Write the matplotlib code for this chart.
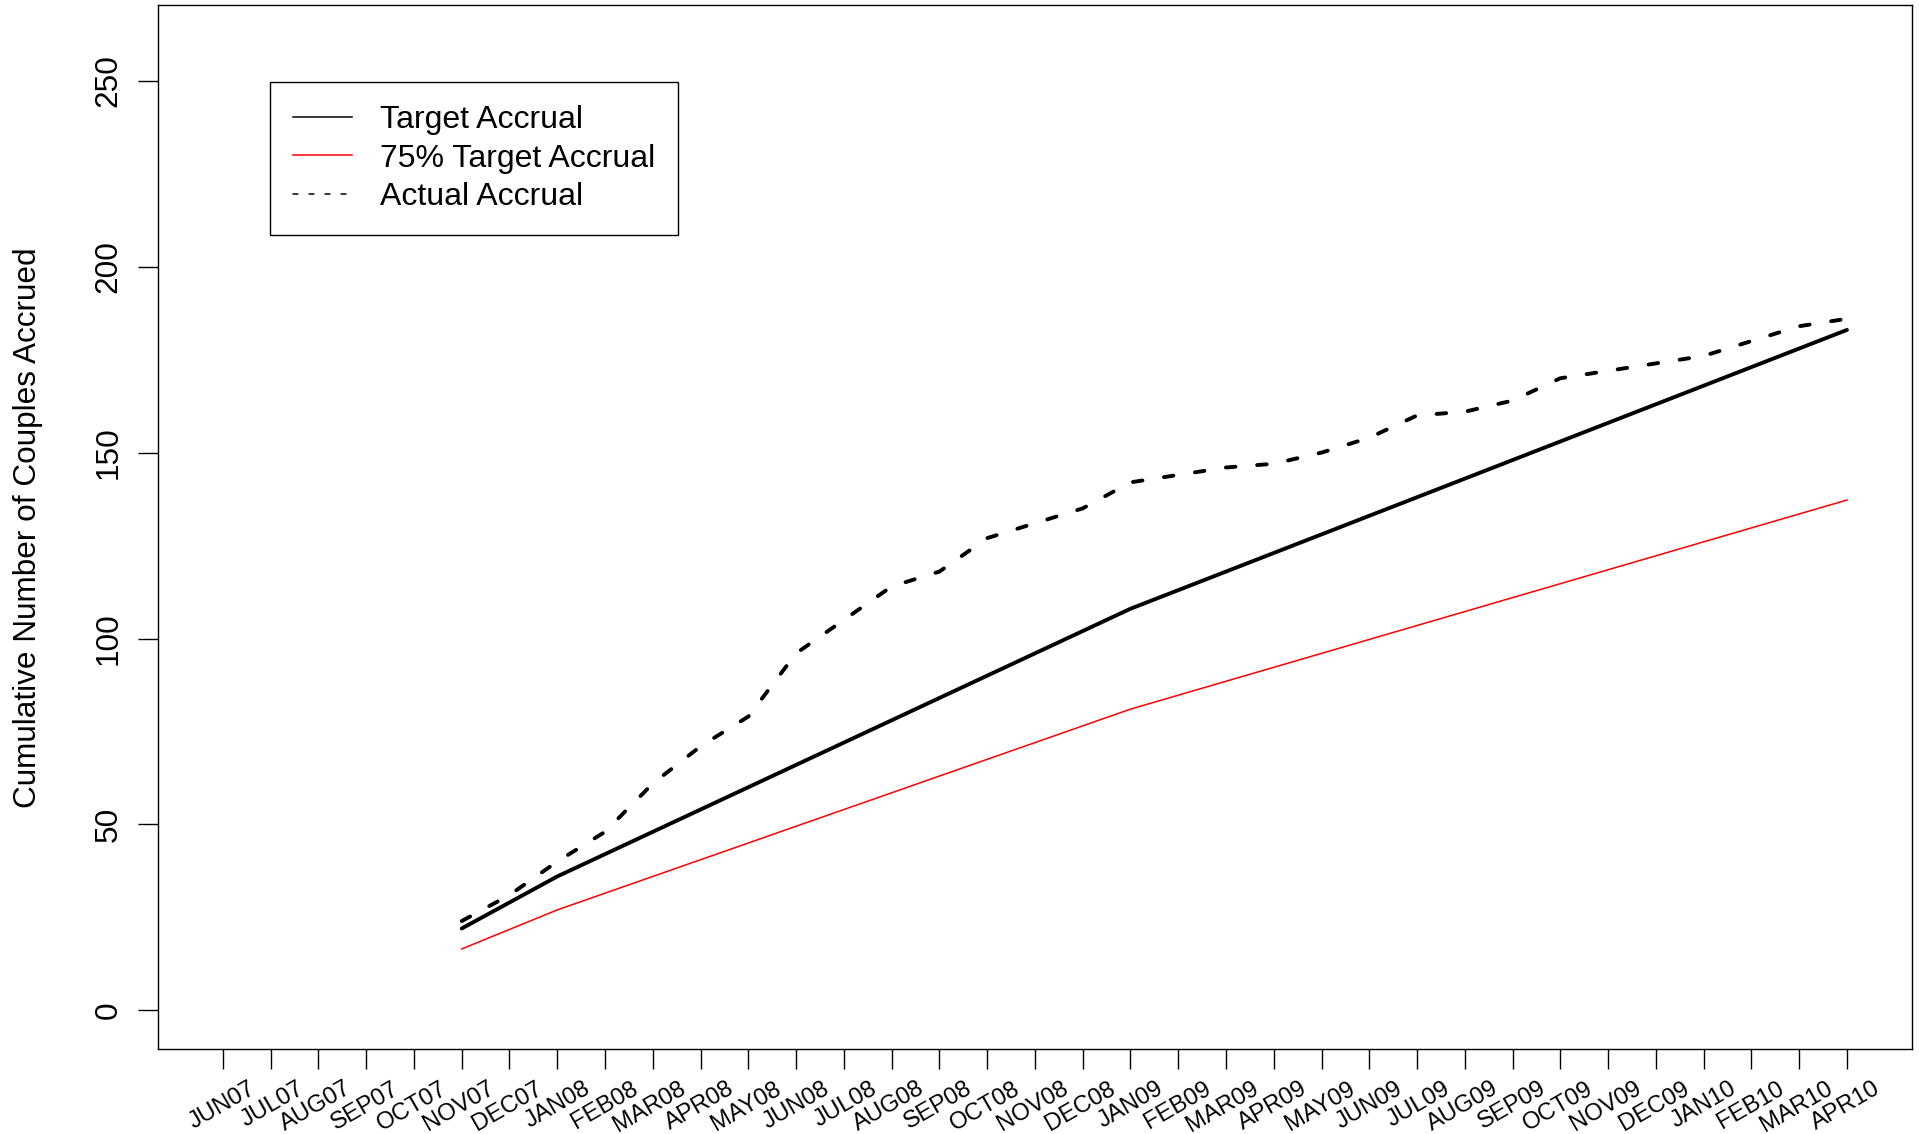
import numpy as np
import matplotlib
matplotlib.use('Agg')
import matplotlib.pyplot as plt
import matplotlib.transforms as mtransforms
from matplotlib.lines import Line2D

plt.rcParams['font.family'] = ['Liberation Sans', 'DejaVu Sans']

# month labels on the x axis (JUN07 .. APR10)
months = ['JUN07', 'JUL07', 'AUG07', 'SEP07', 'OCT07', 'NOV07', 'DEC07',
          'JAN08', 'FEB08', 'MAR08', 'APR08', 'MAY08', 'JUN08', 'JUL08',
          'AUG08', 'SEP08', 'OCT08', 'NOV08', 'DEC08', 'JAN09', 'FEB09',
          'MAR09', 'APR09', 'MAY09', 'JUN09', 'JUL09', 'AUG09', 'SEP09',
          'OCT09', 'NOV09', 'DEC09', 'JAN10', 'FEB10', 'MAR10', 'APR10']

# the series start at NOV07
start_month = 'NOV07'

target = [22, 29, 36, 42, 48, 54, 60, 66, 72, 78, 84, 90, 96, 102, 108,
          113, 118, 123, 128, 133, 138, 143, 148, 153, 158, 163, 168, 173, 178, 183]

target75 = [16.5, 21.75, 27, 31.5, 36, 40.5, 45, 49.5, 54, 58.5, 63, 67.5, 72, 76.5, 81,
            84.75, 88.5, 92.25, 96, 99.75, 103.5, 107.25, 111, 114.75, 118.5, 122.25,
            126, 129.75, 133.5, 137.25]

actual = [24, 31, 40, 48, 61, 71, 79, 96, 105, 114, 118, 127, 131, 135, 142,
          144, 146, 147, 150, 154, 160, 161, 164, 170, 172, 174, 176, 180, 184, 186]

x_all = np.arange(len(months))
x = x_all[months.index(start_month):]

fig = plt.figure(figsize=(19.19, 11.34), dpi=100)
ax = fig.add_axes([0.0823, 0.075, 0.9140, 0.9206])

ax.plot(x, target, color='black', lw=2.8, solid_capstyle='round', solid_joinstyle='round')
ax.plot(x, target75, color='#ff0000', lw=1.1)
ax.plot(x, actual, color='black', lw=2.8, linestyle=(0, (2.46, 5.6)),
        dash_capstyle='round', dash_joinstyle='round')

ax.set_xlim(-1.36, 35.36)
ax.set_ylim(-10.4, 270.4)

# axes look (R base graphics style)
for s in ax.spines.values():
    s.set_linewidth(1.0)
ax.set_yticks([0, 50, 100, 150, 200, 250])
ax.set_yticklabels(['0', '50', '100', '150', '200', '250'], rotation=90, va='center')
ax.tick_params(axis='y', length=14.4, width=1.0, labelsize=22.7, pad=10.5)
ax.set_xticks(x_all)
ax.set_xticklabels([])
ax.tick_params(axis='x', length=14.4, width=1.0)

# rotated month labels under the axis
trans = mtransforms.blended_transform_factory(ax.transData, ax.transAxes)
for i, m in enumerate(months):
    ax.text(i + 0.72, -0.0415, m, transform=trans, rotation=30, rotation_mode='anchor',
            ha='right', va='baseline', fontsize=17.2, clip_on=False)

fig.text(28.0 / 1919, 1 - 528 / 1134, 'Cumulative Number of Couples Accrued',
         rotation=90, ha='center', va='center', fontsize=22.7)

handles = [Line2D([], [], color='black', lw=1.1),
           Line2D([], [], color='#ff0000', lw=1.1),
           Line2D([], [], color='black', lw=1.1, linestyle=(0, (3.2, 7.3)), dash_capstyle='round')]
leg = ax.legend(handles, ['Target Accrual', '75% Target Accrual', 'Actual Accrual'],
                loc='upper left', bbox_to_anchor=(0.0641, 0.9262), borderaxespad=0,
                fontsize=23.0, frameon=True, fancybox=False, borderpad=0.72,
                handlelength=1.85, handletextpad=0.85, labelspacing=0.27)
leg.get_frame().set_edgecolor('black')
leg.get_frame().set_linewidth(1.0)
leg.get_frame().set_alpha(1)

plt.savefig('out.png', dpi=100)
